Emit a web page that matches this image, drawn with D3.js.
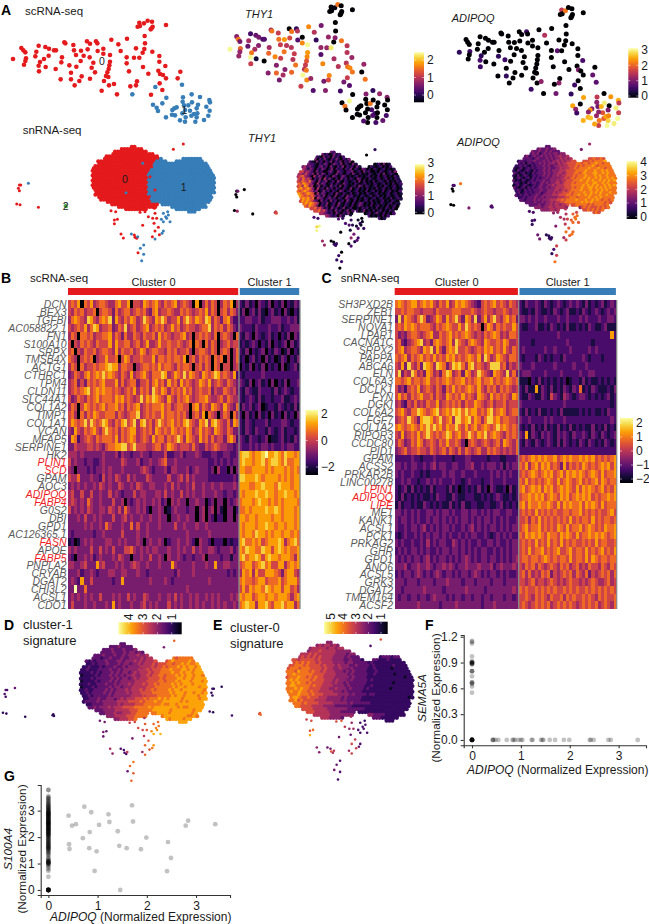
<!DOCTYPE html>
<html lang="en">
<head>
<meta charset="UTF-8">
<title>scRNA-seq and snRNA-seq clusters</title>
<script src="https://d3js.org/d3.v7.min.js"></script>
<style>
    html, body { margin: 0; background: #fff; }
    svg { display: block; font-family: "Liberation Sans", Arial, sans-serif; }
    .gene { font-size: 11.5px; font-style: italic; text-anchor: end; }
</style>
</head>
<body>
<svg id="fig" width="649" height="924"></svg>
<script>
// scRNA-seq cells: x, y (umap), cluster, THY1, ADIPOQ
const scCells = [
    [39,177,0,2.4,.5],[64,144,0,.9,0],[70,151,0,1.7,0],[76,157,0,.8,0],[78,175,0,1.6,.6],[76,183,0,1,0],[72,194,0,1,0],
    [116,137,0,.5,0],[109,155,0,1.1,0],[106,169,0,.7,0],[136,141,0,.7,0],[147,146,0,.8,0],[162,151,0,.6,0],[168,151,0,.6,0],
    [146,167,0,.9,0],[132,177,0,1.1,0],[120,186,0,1.7,.5],[116,197,0,2.4,.7],[137,201,0,.25,0],[117,214,0,1.3,.6],[167,207,0,0,0],
    [193,127,0,1,0],[196,130,0,1.7,0],[186,172,0,1.1,0],[184,187,0,1.6,.5],[220,135,0,1.3,0],[222,151,0,1.7,0],[228,165,0,1.3,0],
    [243,152,0,1.9,0],[251,167,0,1.2,0],[263,148,0,1.4,0],[261,124,0,0,0],[270,131,0,1.7,0],[288,124,0,.4,.6],[292,130,0,1.2,0],
    [293,153,0,.6,0],[310,146,0,0,0],[310,161,0,1.8,0],[269,172,0,1.2,0],[242,183,0,1.7,0],[229,200,0,1.3,0],[208,196,0,1.8,.6],
    [213,218,0,.9,0],[182,238,0,.9,0],[213,238,0,1.6,.5],[224,256,0,.8,0],[238,243,0,1.1,0],[245,229,0,.9,0],[270,236,0,1.6,0],
    [275,203,0,1.2,0],[285,217,0,1.7,0],[280,188,0,1.3,0],[330,165,0,2.4,0],[330,185,0,1.9,0],[328,196,0,1.8,0],[326,207,0,1.5,0],
    [322,217,0,1.3,0],[318,228,0,1.2,0],[325,231,0,1.7,0],[312,243,0,2.4,0],[327,256,0,1.8,0],[342,252,0,1,1.2],[305,272,0,1.3,.6],
    [351,283,0,.6,0],[334,119,0,1.8,0],[381,116,0,.8,0],[355,133,0,1.2,1.5],[362,153,0,.4,0],[408,145,0,1,0],[380,172,0,1,0],
    [402,173,0,1,.8],[418,173,0,2.3,0],[428,158,0,0,0],[433,147,0,.9,0],[380,190,0,.6,0],[429,201,0,1.1,0],[387,214,0,1.8,0],
    [445,221,0,1.2,0],[457,155,0,1.7,0],[478,168,0,1.2,0],[478,185,0,1.2,0],[496,198,0,1,.7],[475,212,0,1.2,0],[480,222,0,1.7,1.1],
    [489,225,0,1.8,0],[498,235,0,1.7,0],[479,250,0,1.3,0],[541,215,0,1,0],[533,235,0,0,.9],[487,270,0,.6,0],[453,284,0,.5,.5],
    [411,244,0,1.8,0],[408,256,0,1.4,1.2],[391,259,0,.8,0],[434,108,0,0,0],[435,130,0,0,0],
    [418,68,0,0,1.6],[420,78,0,0,0],[432,70,0,.1,2.2],[443,62,0,1.7,0],[456,65,0,0,0],[413,80,0,0,0],[458,80,0,0,0],[452,88,0,0,0],[455,85,0,0,0],[498,75,0,0,0],
    [466,261,1,.8,.6],[546,254,1,1.7,.8],[397,283,1,.9,1],[459,314,1,0,2.5],[470,323,1,1.7,1.2],[474,333,1,0,.6],[487,310,1,2.4,0],
    [499,293,1,0,2.5],[549,292,1,.9,1.6],[575,283,1,.4,0],[600,291,1,1,2.4],[628,300,1,.9,2.6],[630,307,1,0,1.6],[619,320,1,0,3],
    [629,332,1,0,1.7],[625,347,1,.5,3.1],[612,360,1,.7,3],[590,352,1,0,2.8],[586,365,1,.5,3.1],[555,365,1,0,1.7],[540,361,1,.6,2.5],
    [574,347,1,.6,2],[557,352,1,0,2.2],[547,340,1,0,1.3],[530,322,1,0,1.2],[523,325,1,0,2.4],[517,330,1,0,1.2],[516,344,1,0,2.6],
    [525,346,1,0,2.7],[498,352,1,0,2.6],[548,305,1,0,1.2],[552,316,1,0,1],[565,316,1,1.7,2.6],[576,307,1,0,3],[594,314,1,0,0],
    [590,325,1,0,1.1],[570,332,1,.5,1.9],[582,342,1,.5,2.5],[555,330,1,0,1.2],[592,340,1,0,2.3]
];

// snRNA-seq outlying cells: x, y (umap), cluster, THY1, ADIPOQ, cluster-1 score, cluster-0 score
const snCells = [
    [58,195,0,.1,.9,1.4,1.4],[62,195,0,1,.9,1.3,1.3],[55,205,0,0,0,1.3,1.4],[58,212,0,0,0,1.2,1.3],[50,252,0,0,0,1,1.5],[60,254,0,1.3,0,1,1.2],
    [115,262,0,0,1.4,.9,1.5],[85,190,1,0,2.9,1.6,1.2],[195,258,2,1.4,.8,1,3.4],[199,260,2,1.9,1,.9,3.9],[197,256,2,1.7,1,1,3.6],
    [520,88,0,0,1.4,1.8,1.6],[550,72,0,.5,1.8,3.2,3.6],
    [428,130,1,.5,1.3,1.8,2.5],[378,218,1,.6,.8,1.3,3],[455,140,0,.7,1.9,2.2,2.5],[450,170,0,.5,1.8,2.4,2.2],[465,210,0,.7,2,2.6,2.1],
    [333,272,0,.7,.9,1.7,3.2],[347,275,0,.6,.9,1.7,3.4],[352,298,0,3,.8,1.6,3.9],[343,311,0,3,.7,1.6,4.6],[343,300,0,2.8,.8,1.7,3.4],
    [363,342,0,1.3,1.3,2.3,2.4],[370,354,0,1.3,1.3,2.1,2.3],[394,342,1,0,.6,1.3,2],[403,345,0,.1,.6,1.2,2.2],[405,352,0,.5,.6,1.3,3.6],[410,355,0,.6,.8,1.2,2.8],[413,350,1,.5,.7,2.6,3],
    [421,385,1,.6,.9,3.3,1.9],[431,375,1,0,2.3,3.4,1.7],[431,403,1,.6,2.2,3.1,1.7],[414,398,0,.5,.7,1.5,2.1],[425,422,1,0,2.9,3.2,1.5],
    [420,277,0,.7,1.6,2.6,3.4],[435,275,0,.5,1.8,2.8,3.6],[445,290,0,.7,2,2.9,3],[463,265,0,.3,2,2.4,2.8],[465,280,0,.5,2,3.1,2.5],[470,295,0,.4,2.3,3,2.7],
    [458,295,0,.7,1.9,2.8,2.4],[462,310,0,.3,2.1,2.5,1.9],[475,322,0,1,2.6,3.1,3.1],[465,333,0,1.2,2.9,3.2,3.3],[478,344,0,.4,2.7,3,3.2],[457,350,0,.1,1.8,2.2,2.7],
    [428,316,0,.1,1.5,1.8,2.1],[465,357,1,.7,2.3,3.2,3.2],[490,333,1,.6,2.8,3.7,1.6],[486,340,1,.8,2.9,3.4,1.9],
    [490,280,1,.2,2.7,3.3,1.6],[497,290,1,.5,2.8,3.5,1.5],[505,285,1,.2,2.9,3.4,1.7],[500,295,1,.2,3,3.6,1.6],[490,305,1,.8,2.8,3.9,1.4],[510,305,1,.5,2.6,4,1.6],[484,298,1,.3,2.7,3.6,1.6],[503,275,1,.1,2.4,3.3,1.4]
];

// snRNA-seq main body: which grid columns are filled on each umap row
const bodySpans = [
    [[14,15]],[[10,17]],[[8,19]],[[7,21]],[[5,23]],[[4,24],[32,38]],[[2,26],[30,39]],[[2,40]],[[1,41]],[[0,41]],
    [[0,42]],[[0,42]],[[0,43]],[[0,43]],[[0,43]],[[0,43]],[[0,43]],[[0,43]],[[1,43]],[[1,43]],
    [[1,42]],[[2,42]],[[3,42]],[[5,41]],[[7,23],[25,40]],[[9,22],[28,40]],[[12,19],[30,38]],[[34,36]]
];
// first grid column of cluster 1 on each row
const clusterSplit = [99,99,99,99,99,24,23,22,22,21,21,20,20,20,20,20,20,20,20,20,20,21,21,21,24,25,25,0];

// expression level 0-9 of the body cells, row by row, left to right
const thy1Grid = [
    "32","31201312","210312031202","302131021310213","2103120213021302130","3221021320132130210310120301","34232102312031021302120310210120102",
    "431320213201302130213021032010210120101","5343203120231032102301203120102101203","43532303132021031201203102010210120301210",
    "4564320413202103201320101201012010201201021","5464530213041310203120210320102101201201021","54654632031230120310210120302010201210201021",
    "65765420413201202103201021012010210120102012","56476340130210312030210120320210120102101201","67567530412031202102103012010201020120102101",
    "65676542301312021032012012010201201020120102","76567650413201203102102012010210120101201201","7656564231302103012031201021012012010210120",
    "6767560432013120210320120102101201201020121","576765320312031201203102010120201012010210","67676540213012031021020132010201021012011",
    "6576530213012031021020132010201201020120","56453120312013012010212010201021020",
    "5645312031201302013010201201021","4321203102130120131020102","43212031201010202","201"
];
const adipoqGrid = [
    "22","23223223","322322323222","232312323233233","2312322323232334334","2222123222323233434345565565","12212223222323233434344555556566667",
    "212022122323233434344555566566566766566","1212102122232322334344555656566676566666","101201212122232322334344556566667666766566",
    "1021012102122323233344455556666766676676766","2101201021222323233443455566567666776676766","10201210121223232334344555656667666767667666",
    "01210120212122323333445456566676766767667676","20102101212223223334344555666766767667676767","12101021221232323344345556566667667766767666",
    "01201210121232233434445556666676767676676767","21012021212322323344445556566766776767676766","1210212122232233344345556666766676676767666",
    "1201212122322333434455565666676676767666766","212122122322333344455566566766767666766766","12122232232333344455666566676676766666",
    "2212223232333444556566667666766767656656","22232232334344556666667676766666565",
    "2223223343443445566666565666656","33233434444356565565656","33334434556565656","565"
];
const sig1Grid = [
    "22","22232222","222322232223","222232223233232","2223222322323334334","2221223222322333343446566666","21212223222332333434344455676666676",
    "112122232223233233434445455566566767667","1211121222322323333444454556566676767767","112111222232232333334445455566676667767677",
    "1111212122232323323434445455666676676776777","0111121222323232334334454556656667676776776","11112122222323233234344455556566667767767777",
    "01111212223232333334444555566566676777677767","11121122232232333434445455656666767677767777","01112122223233233344444555666666767767777677",
    "11211222232323334344454556566667677677777776","11212222323233334344455556666667677767767767","1212222232333334444555556666767767777677",
    "1122232233333434445556566676767777677777677","122223233333444455556566676677777767677777","12222333343444555666667677677777777",
    "2232333434445555666667677777777676677777","22333444455666677777677777677",
    "2333434445566666777677777767","33444556666777777676","3444556767777677","777"
];
const sig0Grid = [
    "33","34344343","344444344344","344454444433333","4445454444443333233","4545454544443333232221222122","55455555454444333322322212211121111",
    "565656554544443333233222221211111111111","5666565555454443433322322221211111121111","566656665555454433433232222211211111011111",
    "6665766656554544433323232222111211111111111","6676666665555444433332322222112111111011111","56667665656554444333332322221111111111111011",
    "67676666565554443433323222221211111111111111","66767665655554443433232222221111111110111111","67766666565544443333232222211211111111111111",
    "66676766555544433433323222212111111101111111","67667665655444443332322222111111111111111111","6676665655544443333232222121111111111111",
    "6776556555444333332322222111111111111111101","675655554444333323222221111111111111111","6656555444433332322222111111111111",
    "6655554444333322222211111111111111111111","55544443333322222111111111111",
    "5544443333222211111111111111","44433333221111","4433322211111","111"
];

// heatmap B: gene names and scaled expression (digit 0-9), cluster 0 | cluster 1
const genesB = ["DCN","BEX3","TGFBI","AC058822.1","FN1","S100A10","SRPX","TMSB4X","ACTG1","CTHRC1","TPM4","CLDN11","SLC44A1","COL1A2","TIMP1","COL1A1","VCAN","MFAP5","SERPINE1","HK2","PLIN1","SCD","GPAM","AOC3","ADIPOQ","FABP4","G0S2","DBI","GPD1","AC126365.1","FASN","APOE","FABP5","PNPLA2","CRYAB","DGAT2","CHI3L2","ACSL1","CDO1"];
const redB = ["PLIN1","SCD","ADIPOQ","FABP4","FASN","FABP5"];
const heatB = [
    "5657065745665446755705547656754656745654070464650465704|2131203213021302132",
    "5465645560566536456645656436745565446565456574650564653|1302313102312031021",
    "4676548754676837546576458654768645574686576587465367422|2233223122333223231",
    "5456574687455634658456456745656457564565545668465646532|3222132223223122333",
    "4650665645566746536446546556475654556745056565460565406|2132032123120213032",
    "5054656546555747556645645744575565565456065064650456455|1212320213021230312",
    "5605465564566547465564576456655465645564056654650565046|2130212302132013021",
    "6540565604557556057645565557466565665705646565065605046|1202312031201320213",
    "4650645565667877466550456656575665465665056465065055045|0213021302120301231",
    "3465467567686765465474567546668745765857654765687565472|2122222322222222222",
    "4563536565675557464566355646756475647565457657456546543|3213023120302130223",
    "4565678567676656545657465648657646565756456556354465453|2132113222131232122",
    "5346546567566657675654585768765475465675456675445646544|2123213122122311232",
    "4650576565675667564656745656667564566550674654765475436|1323123012213212131",
    "5640646576556664654566845656557566565640564706540465064|2031203120312031203",
    "5765685865687546578568478564686567565786547684786546376|2132122231222332122",
    "4375465675468656465677456564765657656576457565476546533|2132132213212312212",
    "3762456546566657465676456547566465686476547564645536752|3213221230112312132",
    "3354445545435667788568555445664576545554643354565443323|3223232332322323322",
    "4443433333343334243323343323333522334233343222332233223|7887677897787687767",
    "5343323322343333354333423343345633433333333332232323233|7877677867887686677",
    "4303332323343433343333345432333424433342343332304220303|7766777767677767676",
    "5446333433253435433534333543333353345353433332222222232|8877787677776767677",
    "3434343343543433543343543344333435343343533433433433343|7776677877768777677",
    "4533533533433534323335344333443534335343433433343323323|7677787787767787767",
    "4543436433433353340323434334342304343303343302303303234|6777678776767677776",
    "5343435433443543536433434203343013433323303403403103302|6676777787787677767",
    "3334353343433353345343343343343303343343303403202203303|7767767777677677767",
    "3333343433436433343363533433343333533433343343333333333|7677767787767767767",
    "3233333323343333353333433433333333333343333334333333333|7677687767677677676",
    "1201343433334433434333430343343023343343204332022202122|7866767567778746786",
    "4343333533534353335564343434433343343433534334432333423|7687766877578767667",
    "3203343423433343543303343353343043343233233403333233133|7867787578776777647",
    "4433453337453334343345433433343337433333433343373344333|5677567867557746767",
    "3334233432333443344333433233333333243333433333333332323|4767475577765367754",
    "3432733533333323373333333343333432333333333334333333333|6766567756667567775",
    "3393363333333333333333333333333333333343333333333333333|5757677687677577564",
    "3434343433533343433534335433343343534334343343434333434|7677567767767776467",
    "3533343343334373433343345343433353434334343433434343343|6787747786577867746"
];

// heatmap C
const genesC = ["SH3PXD2B","ZEB1","SERPINE1","NOVA1","LPAR1","CACNA1C","SRPX2","PAPPA","ABCA6","ELN","COL6A3","DCLK1","FYN","DGKI","COL6A2","FGF7","COL1A2","RIPOR3","CCDC80","PID1","GPAM","ACSS2","PRKAR2B","LINC00278","LPIN1","ADIPOQ","LIPE","ME1","KANK1","ACSL1","PCK1","PRKAG2","GHR","GPD1","ANO6","ACSL5","GRK3","DGAT2","TMEM164","ACSF2"];
const redC = ["LPIN1","ADIPOQ","LIPE"];
const heatC = [
    "676567756767546574576765432565675654654|2132232132123212323213121231232",
    "556566554555465555666555654565545565455|2112132112132123112132123212323",
    "384765468634576475685376483574685467563|3323232232223223222323222322332",
    "565767656665465676557586565057646565575|2112231121321213112121321123111",
    "534356654567446567565676545465676454665|2222222222223222222222222222272",
    "563245678453676567486546765476556576445|2222122222222223222222212222222",
    "567456654768475367685565456576756575465|2322222232232222322222323222222",
    "656746567565756576756567657486457654665|2122213212122132222232122212222",
    "547385463876487635878647856545888563545|3222322222232222232223222222222",
    "583548645376453687456376458654376548463|2333222232222322222322332222222",
    "665675665675565676566756567566756567656|1110213121212120122131211212121",
    "534256574565465365756567657546564656545|2131171321312132132612132111213",
    "575646567556465476565756547654756565476|2113211321532143212332121212312",
    "453254645465574565656465576545645564555|3222222222222232222222222222212",
    "567546687656785676878686775657856764566|2131213112121311111212121121322",
    "456586537887568567488678576468867566554|3223222232322232222222222222232",
    "676567657686867576686575675676568676565|2121312131213121312121131213121",
    "547456575686565687567568657685676546565|3271321323213232132232132132123",
    "465346576456546575565305654565456476546|2132132123213132121321321213212",
    "345645565546545646546465456446565454546|2222222222222222222222222222222",
    "222223221222322222122233222221222112223|5656767676675676766767675656567",
    "332323322323423322332233422323332313233|6574675767565374656576565676757",
    "323223221212222323322322232222323232322|5656765676756757676765676575667",
    "223232212232323222322123222122322232222|6575656567657567656756567576566",
    "212313121213122213120121213120321120312|6756767576756767657576765675657",
    "213121212112132211321122211212123211212|5667676756765767567676756566767",
    "131221211321212113121311221122112312121|6757667667657576766757676575666",
    "332323232233232332322332332323233223322|5656575656565566566756565655675",
    "323323232232332323232332323233232323223|5564657565656565756566575656656",
    "322323323423232332322323423232332323233|5675667565657657566756765657667",
    "212322323232332323223232332232123232322|6576767657665767657566767676567",
    "323223223242323322432323223223323223233|5656575657565756565565657566556",
    "232323323232232332332323232332232323233|5657566756567556756657565675657",
    "323232332342323323232343232332332323234|5665665676565665756657576566566",
    "333423343343233434323343334333423433343|5465646545654656456454655465465",
    "232332343232343233232332343232332323223|5646454656354565646546354565646",
    "333233323333233343333233323333233323333|5545645545654545655454565445645",
    "332333333433333233333343333323333333343|6565565656565565656556565656565",
    "323323323323433323233233233233233323323|5565465654655646565565654656556",
    "333333343333332333343333333233343333333|5654565656456565654565656456546"
];

// scatter F: SEMA5A vs ADIPOQ
const semaColumn = [1.15,1.14,1.12,.97,.91,.91,.9,.9,.9,.89,.89,.88,.88,.8,.8,.8,.74,.67,.67,.66,.65,.62,.55,0,0,0,0,0,0,0,0,0,0,0,0];
const semaRowX = [.42,.43,.44,.48,.54,.71,.83,.85,.88,.95,1,1.03,1.22,1.24,1.41,1.44,1.46,1.59,1.7,1.88,1.99,2.41,2.43,2.49,2.79,2.84,3.39];

// scatter G: S100A4 vs ADIPOQ
const s100Column = [0,0,0,0,0,0,0,0,0,0,0,0,.5,.72,.78,.85,.9,.95,1,1.03,1.06,1.1,1.14,1.2,1.3,1.38,1.44,1.5,1.56,1.6,1.64,1.7,1.75,1.8,1.86,1.9,1.95,2,2.05,2.08,2.12,2.16,2.2,2.24,2.28,2.32,2.36,2.4,2.44,2.48,2.5,2.54,2.58,2.62,2.66,2.7,2.74,2.78,2.82,2.86,2.9,2.94,2.98,3,3.04,3.08,3.14,3.2,3.28,3.34,3.42,3.5,3.55,3.78,3.78,
    .98,1.02,1.05,1.08,1.12,1.6,1.68,1.72,1.78,1.84,1.92,1.98,2.02,2.06,2.1,2.14,2.18,2.22,2.26,2.3,2.34,2.38,2.42,2.46,2.5,2.52,2.56,2.6,2.64,2.68,2.72,2.76,2.8,2.84,2.88,2.92,2.96,3.02,3.06,3.12,
    2.1,2.16,2.24,2.28,2.33,2.38,2.44,2.48,2.53,2.57,2.61,2.65,2.72,2.77,2.83,2.87,2.91,2.95,1.58,1.7,1.8,1.9,1.06,1.0,3.2,3.3,
    1.22,1.34,1.42,1.48,1.54,1.62,3.1,3.16,3.24,3.36,3.44,3.48];
const s100X = [.41,.73,.87,1.22,1.7,1.24,1.72,2.84,2.79,3.39,.48,.56,1.03,.84,1.41,.7,1.99,.42,.43,.83,.98,1.44,1.59,1.88,2.43,2.49,.94,2.41,1.46];
const s100Y = [2.81,3.15,2.94,2.86,3.2,2.57,2.59,2.62,2.43,2.49,2.43,2.49,2.46,2.19,2.22,1.96,1.98,1.73,1.55,1.58,1.46,1.67,1.58,1.54,1.81,1.21,.72,.71,0];

const clusterColors = ["#e41a1c", "#377eb8", "#4daf4a"];
const svg = d3.select("#fig");
const defs = svg.append("defs");

function addText(x, y, txt, size, opts = {}) {
    return svg.append("text").attr("x", x).attr("y", y)
        .attr("font-size", size)
        .attr("font-style", opts.italic ? "italic" : null)
        .attr("font-weight", opts.bold ? "bold" : null)
        .attr("fill", opts.fill || "#1a1a1a")
        .attr("text-anchor", opts.anchor || "start")
        .text(txt);
}

// position scales for one panel: umap domain -> page pixels
function panelScales(xr, yr, xd, yd) {
    return {
        x: d3.scaleLinear().domain(xd).range(xr),
        y: d3.scaleLinear().domain(yd).range(yr)
    };
}
const scDomX = [39, 630], scDomY = [62, 365];
const snDomX = [275, 645], snDomY = [80, 275];
const gridCols = 44, gridRows = 28;

// places the level strings on the body grid, in umap units
function gridCells(grid) {
    const out = [];
    bodySpans.forEach((spans, r) => {
        const row = grid ? grid[r] : "";
        const cols = spans.flatMap(s => d3.range(s[0], s[1] + 1));
        cols.forEach((c, i) => {
            const level = grid ? +row[Math.floor(i * row.length / cols.length)] : 0;
            out.push({
                x: snDomX[0] + (c + 0.5 + (r % 2 ? 0.2 : -0.2)) * (snDomX[1] - snDomX[0]) / gridCols,
                y: snDomY[0] + r * (snDomY[1] - snDomY[0]) / (gridRows - 1),
                level: level,
                cluster: c >= clusterSplit[r] ? 1 : 0
            });
        });
    });
    return out;
}

function drawDots(scales, data, r, color) {
    svg.append("g").selectAll("circle").data(data).join("circle")
        .attr("cx", d => scales.x(d.x))
        .attr("cy", d => scales.y(d.y))
        .attr("r", r)
        .attr("fill", color);
}

// ggplot style colour bar with white ticks; vertical unless horizontal is set
function colorBar(id, x, y, w, h, ticks, tickPos, horizontal, labelSize = 12) {
    const grad = defs.append("linearGradient").attr("id", id)
        .attr("x1", "0").attr("y1", horizontal ? "0" : "1")
        .attr("x2", horizontal ? "1" : "0").attr("y2", "0");
    d3.range(0, 1.001, 0.1).forEach(t => {
        grad.append("stop").attr("offset", t)
            .attr("stop-color", d3.interpolateInferno(horizontal ? 1 - t : t));
    });
    svg.append("rect").attr("x", x).attr("y", y).attr("width", w).attr("height", h)
        .attr("fill", `url(#${id})`);
    const pos = d3.scaleLinear().domain([ticks[0], ticks[ticks.length - 1]])
        .range([tickPos[0], tickPos[1]]);
    ticks.forEach(t => {
        const p = pos(t);
        if (horizontal) {
            svg.append("line").attr("x1", p).attr("x2", p).attr("y1", y).attr("y2", y + 2).attr("stroke", "#fff").attr("stroke-width", .5);
            svg.append("line").attr("x1", p).attr("x2", p).attr("y1", y + h - 2).attr("y2", y + h).attr("stroke", "#fff").attr("stroke-width", .5);
            svg.append("text").attr("transform", `translate(${p + 4},${y - 2}) rotate(-90)`)
                .attr("font-size", labelSize).attr("fill", "#1a1a1a").text(t);
        } else {
            svg.append("line").attr("x1", x).attr("x2", x + 2).attr("y1", p).attr("y2", p).attr("stroke", "#fff").attr("stroke-width", .5);
            svg.append("line").attr("x1", x + w - 2).attr("x2", x + w).attr("y1", p).attr("y2", p).attr("stroke", "#fff").attr("stroke-width", .5);
            svg.append("text").attr("x", x + w + 3).attr("y", p + 4.3)
                .attr("font-size", labelSize).attr("fill", "#1a1a1a").text(t < 0 ? "\u2212" + (-t) : t);
        }
    });
}

// ---- panel A, top row ----
const scA = panelScales([13, 210], [20.7, 121.7], scDomX, scDomY);
const scT = panelScales([230, 387.6], [4.6, 122.5], scDomX, scDomY);
const scQ = panelScales([459.3, 618.9], [7.6, 125.5], scDomX, scDomY);
const scData = scCells.map(d => ({ x: d[0], y: d[1], cluster: d[2], thy1: d[3], adipoq: d[4] }));

drawDots(scA, scData, 2.3, d => clusterColors[d.cluster]);
const scThyColor = d3.scaleSequential(d3.interpolateInferno).domain([0, 2.45]);
const scAdqColor = d3.scaleSequential(d3.interpolateInferno).domain([0, 3.15]);
drawDots(scT, scData, 2.5, d => scThyColor(d.thy1));
drawDots(scQ, scData, 2.5, d => scAdqColor(d.adipoq));
colorBar("barT", 414, 52.3, 10, 50, [2, 1, 0], [60, 95]);
colorBar("barQ", 628.3, 48.3, 10, 49.4, [3, 2, 1, 0], [50, 96]);

// ---- panel A, bottom row ----
const snData = snCells.map(d => ({ x: d[0], y: d[1], cluster: d[2], thy1: d[3], adipoq: d[4], sig1: d[5], sig0: d[6] }));
const snA = panelScales([91.7, 215], [146.7, 211.7], snDomX, snDomY);
const snT = panelScales([297.7, 401.7], [152.3, 218.3], snDomX, snDomY);
const snQ = panelScales([513.3, 616], [146.7, 212.3], snDomX, snDomY);
const snD = panelScales([80, 206.7], [644, 722], snDomX, snDomY);
const snE = panelScales([286.7, 413.3], [642.7, 720.7], snDomX, snDomY);

const levelColor = l => d3.interpolateInferno(l / 9);
// signature scores never reach black in the body, so their levels start a bit up the ramp
const scoreColor = l => d3.interpolateInferno(0.07 + 0.93 * l / 9);
drawDots(snA, gridCells(null), 2, d => clusterColors[d.cluster]);
drawDots(snA, snData, 1.5, d => clusterColors[d.cluster]);

const snThyColor = d3.scaleSequential(d3.interpolateInferno).domain([0, 3.1]);
const snAdqColor = d3.scaleSequential(d3.interpolateInferno).domain([0, 4.2]);
const sig1Color = d3.scaleSequential(d3.interpolateInferno).domain([0.3, 4.75]);
const sig0Color = d3.scaleSequential(d3.interpolateInferno).domain([0.47, 5.5]);

drawDots(snT, gridCells(thy1Grid), 1.9, d => levelColor(d.level));
drawDots(snT, snData, 1.6, d => snThyColor(d.thy1));
drawDots(snQ, gridCells(adipoqGrid), 1.9, d => scoreColor(d.level));
drawDots(snQ, snData, 1.6, d => snAdqColor(d.adipoq));
drawDots(snD, gridCells(sig1Grid), 2.1, d => scoreColor(d.level));
drawDots(snD, snData, 1.3, d => sig1Color(d.sig1));
drawDots(snE, gridCells(sig0Grid), 2.1, d => scoreColor(d.level));
drawDots(snE, snData, 1.3, d => sig0Color(d.sig0));

colorBar("barT2", 415, 164.3, 9.5, 50, [3, 2, 1, 0], [162.3, 212.3]);
colorBar("barQ2", 626.7, 161, 10.5, 58, [4, 3, 2, 1, 0], [162, 216.7]);
colorBar("barD", 118.3, 622.3, 63.4, 12, [4, 3, 2, 1], [129, 171.7], true);
colorBar("barE", 324, 621.7, 63.7, 12.3, [5, 4, 3, 2, 1], [330.7, 381], true);

// in-plot cluster labels
addText(scA.x(306), scA.y(183) + 4, "0", 10.5, { anchor: "middle" });
addText(scA.x(553), scA.y(330) + 4, "1", 10.5, { anchor: "middle" });
addText(snA.x(375), snA.y(177) + 4, "0", 10.5, { anchor: "middle" });
addText(snA.x(551), snA.y(200) + 4, "1", 10.5, { anchor: "middle" });
addText(snA.x(197), snA.y(259) + 4, "2", 10.5, { anchor: "middle" });

// ---- heatmaps ----
function drawHeatmap(genes, rows, reds, x0, xSplit, x1, yTop, yBottom, labelX) {
    const y = d3.scaleBand().domain(genes).range([yTop, yBottom]);
    const heat = d3.scaleSequential(d3.interpolateInferno).domain([0, 9]);
    const g = svg.append("g").attr("shape-rendering", "crispEdges");
    rows.forEach((row, i) => {
        const [left, right] = row.split("|");
        const xL = d3.scaleBand().domain(d3.range(left.length)).range([x0, xSplit]);
        const xR = d3.scaleBand().domain(d3.range(right.length)).range([xSplit, x1]);
        [[left, xL], [right, xR]].forEach(([vals, xs]) => {
            g.selectAll(null).data(vals.split("")).join("rect")
                .attr("x", (d, c) => xs(c))
                .attr("y", y(genes[i]))
                .attr("width", xs.bandwidth() + 0.3)
                .attr("height", y.bandwidth() + 0.3)
                .attr("fill", d => heat(+d));
        });
    });
    [xSplit, x1].forEach(xx => {
        svg.append("line").attr("x1", xx).attr("x2", xx).attr("y1", yTop).attr("y2", yBottom)
            .attr("stroke", "#8a8a8a").attr("stroke-width", 1.3);
    });
    svg.append("g").selectAll("text").data(genes).join("text")
        .attr("class", "gene")
        .attr("transform", d => `translate(${labelX},${y(d) + y.bandwidth() / 2 + 4}) scale(0.91,1)`)
        .attr("fill", d => reds.includes(d) ? "#ee1c25" : "#5a5a5a")
        .text(d => d);
    // cluster strips on top
    svg.append("rect").attr("x", x0).attr("y", 288).attr("width", xSplit - x0 - 0.8).attr("height", 7).attr("fill", clusterColors[0]);
    svg.append("rect").attr("x", xSplit + 0.8).attr("y", 288).attr("width", x1 - xSplit - 1.6).attr("height", 7).attr("fill", clusterColors[1]);
    addText((x0 + xSplit) / 2, 286, "Cluster 0", 11, { anchor: "middle" });
    addText((xSplit + x1) / 2, 286, "Cluster 1", 11, { anchor: "middle" });
}
drawHeatmap(genesB, heatB, redB, 68, 239, 300, 300, 609, 66.5);
drawHeatmap(genesC, heatC, redC, 394.7, 518.7, 616.7, 300, 609, 393);
colorBar("barB", 305.7, 410, 12.3, 65, [2, 0, -2], [414, 467]);
colorBar("barC", 620, 418, 13, 65, [2, 1, 0, -1, -2], [423, 479]);

// ---- scatters ----
function drawScatter(xs, ys, xTicks, yTicks, yFmt, points, xLab, yGene, yTitleX, yCenter) {
    const g = svg.append("g");
    g.selectAll("circle").data(points).join("circle")
        .attr("cx", d => xs(d[0])).attr("cy", d => ys(d[1]))
        .attr("r", 2.4).attr("fill", "#000").attr("fill-opacity", 0.24);
    const bottom = ys.range()[0], left = xs.range()[0];
    const xAxis = svg.append("g").attr("transform", `translate(0,${bottom})`)
        .call(d3.axisBottom(xs).tickValues(xTicks).tickSize(3).tickFormat(d3.format("d")));
    const yAxis = svg.append("g").attr("transform", `translate(${left},0)`)
        .call(d3.axisLeft(ys).tickValues(yTicks).tickSize(3).tickFormat(d3.format(yFmt)));
    [xAxis, yAxis].forEach(a => {
        a.selectAll("text").attr("font-size", 12).attr("font-family", "Liberation Sans").attr("fill", "#1a1a1a");
        a.selectAll("path,line").attr("stroke", "#333").attr("stroke-width", 1.1);
    });
    const t = addText(xLab.x, xLab.y, "", 12);
    t.append("tspan").attr("font-style", "italic").text("ADIPOQ");
    t.append("tspan").text(" (Normalized Expression)");
    const yl = svg.append("g").attr("transform", `translate(${yTitleX},${yCenter}) rotate(-90)`);
    yl.append("text").attr("text-anchor", "middle").attr("font-size", 11.8).attr("font-style", "italic").attr("fill", "#1a1a1a").text(yGene);
    yl.append("text").attr("text-anchor", "middle").attr("y", 14).attr("font-size", 11.8).attr("fill", "#1a1a1a").text("(Normalized Expression)");
}
const xF = d3.scaleLinear().domain([-0.17, 3.56]).range([463.7, 646]);
const yF = d3.scaleLinear().domain([-0.062, 1.22]).range([745.3, 635]);
const ptsF = semaColumn.map(v => [0, v]).concat(semaRowX.map(v => [v, 0]));
drawScatter(xF, yF, [0, 1, 2, 3], [0, .3, .6, .9, 1.2], ".1f", ptsF, { x: 467, y: 774 }, "SEMA5A", 426, 698);

const xG = d3.scaleLinear().domain([-0.156, 3.69]).range([40.7, 230]);
const yG = d3.scaleLinear().domain([-0.19, 3.97]).range([895, 785]);
const ptsG = s100Column.map(v => [0, v]).concat(s100X.map((v, i) => [v, s100Y[i]]));
drawScatter(xG, yG, [0, 1, 2, 3], [0, 1, 2, 3], "d", ptsG, { x: 50, y: 920.5 }, "S100A4", 11.5, 849);

// ---- titles ----
[["A", 1, 15], ["B", 1, 283], ["C", 321.5, 283], ["D", 4, 630], ["E", 213, 630], ["F", 425, 630], ["G", 4, 781]].forEach(d => {
    addText(d[1], d[2], d[0], 14, { bold: true, fill: "#000" });
});
addText(25, 15, "scRNA-seq", 11.5);
addText(22.7, 134, "snRNA-seq", 11.5);
addText(30, 282, "scRNA-seq", 11.5);
addText(340.7, 282, "snRNA-seq", 11.5);
addText(245, 17.7, "THY1", 11, { italic: true });
addText(451.7, 21.7, "ADIPOQ", 11, { italic: true });
addText(248, 141.7, "THY1", 11, { italic: true });
addText(457, 146, "ADIPOQ", 11, { italic: true });
addText(23, 629, "cluster-1", 13);
addText(23, 645, "signature", 13);
addText(230, 631.5, "cluster-0", 13);
addText(230, 647.5, "signature", 13);
</script>
</body>
</html>
